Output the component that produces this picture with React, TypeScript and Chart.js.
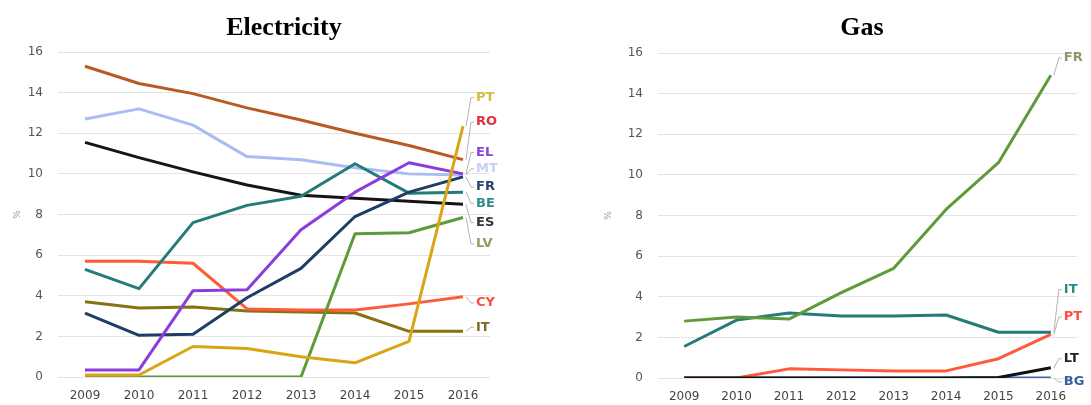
import React, { useEffect, useRef } from 'react';
import { Chart, registerables } from 'chart.js';

Chart.register(...registerables);

// ---------- data ----------
const years = ['2009', '2010', '2011', '2012', '2013', '2014', '2015', '2016'];
const yTicks = [0, 2, 4, 6, 8, 10, 12, 14, 16];

// Electricity (%)
const elecPT = [0.1, 0.1, 1.5, 1.4, 1.0, 0.7, 1.75, 12.35];
const elecRO = [15.3, 14.45, 13.95, 13.25, 12.65, 12.0, 11.4, 10.7];
const elecEL = [0.35, 0.35, 4.25, 4.3, 7.25, 9.1, 10.55, 10.0];
const elecMT = [12.7, 13.2, 12.4, 10.85, 10.7, 10.3, 10.0, 9.95];
const elecFR = [3.15, 2.05, 2.1, 3.9, 5.35, 7.9, 9.1, 9.85];
const elecBE = [5.3, 4.35, 7.6, 8.45, 8.9, 10.5, 9.05, 9.1];
const elecES = [11.55, 10.8, 10.1, 9.45, 8.95, 8.8, 8.65, 8.5];
const elecLV = [0, 0, 0, 0, 0, 7.05, 7.1, 7.85];
const elecCY = [5.7, 5.7, 5.6, 3.35, 3.3, 3.3, 3.6, 3.95];
const elecIT = [3.7, 3.4, 3.45, 3.25, 3.2, 3.15, 2.25, 2.25];

// Gas (%)
const gasFR = [2.8, 3.0, 2.9, 4.2, 5.4, 8.3, 10.6, 14.9];
const gasIT = [1.55, 2.85, 3.2, 3.05, 3.05, 3.1, 2.25, 2.25];
const gasLT = [0, 0, 0, 0, 0, 0, 0.02, 0.5];
const gasPT = [0, 0, 0.45, 0.4, 0.35, 0.35, 0.95, 2.15];
const gasBG = [0, 0, 0, 0, 0, 0, 0, 0];

// value-space heights where the end labels sit
const elecLabelAt = { PT: 13.75, RO: 12.55, EL: 11.05, MT: 10.25, FR: 9.35, BE: 8.55, ES: 7.6, LV: 6.55, CY: 3.65, IT: 2.45 };
const gasLabelAt = { FR: 15.75, IT: 4.35, PT: 3.0, LT: 0.95, BG: -0.2 };

// ---------- styles ----------
const elecSeries = [
  { key: 'PT', data: elecPT, line: '#d9a514', text: '#d2bd3a' },
  { key: 'LV', data: elecLV, line: '#5e9a38', text: '#8b9b63' },
  { key: 'EL', data: elecEL, line: '#8a3cdc', text: '#8a44d8' },
  { key: 'FR', data: elecFR, line: '#1f3d66', text: '#2b4572' },
  { key: 'BE', data: elecBE, line: '#237c7b', text: '#2d8c8a' },
  { key: 'ES', data: elecES, line: '#151515', text: '#333333' },
  { key: 'MT', data: elecMT, line: '#a9bdf2', text: '#c4d1f4' },
  { key: 'RO', data: elecRO, line: '#b85a24', text: '#e03040' },
  { key: 'CY', data: elecCY, line: '#ff5a3a', text: '#ff4c3c' },
  { key: 'IT', data: elecIT, line: '#857312', text: '#7c6c22' },
];

const gasSeries = [
  { key: 'FR', data: gasFR, line: '#5f9a3a', text: '#889a6e' },
  { key: 'IT', data: gasIT, line: '#237c7b', text: '#2a8a8a' },
  { key: 'LT', data: gasLT, line: '#111111', text: '#222222' },
  { key: 'PT', data: gasPT, line: '#ff5a3a', text: '#ff5040' },
  { key: 'BG', data: gasBG, line: '#3c68b0', text: '#3a5ea6' },
];

const endLabelsPlugin = {
  id: 'endLabels',
  afterDatasetsDraw(chart: any, _args: any, opts: any) {
    const { ctx } = chart;
    const yScale = chart.scales.y;
    const items = opts.items || [];
    ctx.save();
    for (let i = 0; i < items.length; i++) {
      const it = items[i];
      const meta = chart.getDatasetMeta(it.index);
      const pt = meta.data[meta.data.length - 1];
      const x = pt.x;
      const y = pt.y;
      const ly = yScale.getPixelForValue(it.at);
      ctx.strokeStyle = '#b4b4b4';
      ctx.lineWidth = 1;
      ctx.beginPath();
      ctx.moveTo(x + 3, y);
      ctx.lineTo(x + 8, ly);
      ctx.lineTo(x + 11, ly);
      ctx.stroke();
      ctx.fillStyle = it.color;
      ctx.font = 'bold 13px "DejaVu Sans"';
      ctx.textAlign = 'left';
      ctx.textBaseline = 'middle';
      ctx.fillText(it.text, x + 13, ly);
    }
    ctx.font = 'bold 26px "Liberation Serif"';
    ctx.fillStyle = '#000';
    ctx.textAlign = 'center';
    ctx.textBaseline = 'alphabetic';
    ctx.fillText(opts.title, opts.titleX, opts.titleY);
    ctx.restore();
  },
};

function makeConfig(series: any[], labelAt: any, layout: any, title: string, titleX: number) {
  return {
    type: 'line',
    data: {
      labels: years,
      datasets: series.map((s) => ({
        label: s.key,
        data: s.data,
        borderColor: s.line,
        backgroundColor: s.line,
        borderWidth: 3,
        pointRadius: 0,
        tension: 0,
        fill: false,
        borderJoinStyle: 'round',
      })),
    },
    options: {
      animation: false,
      responsive: false,
      events: [],
      layout: { padding: { left: layout.padL, right: layout.padR, top: layout.padT, bottom: 0 } },
      plugins: {
        legend: { display: false },
        tooltip: { enabled: false },
        title: { display: false },
        endLabels: {
          items: series.map((s, i) => ({ index: i, text: s.key, color: s.text, at: labelAt[s.key] })),
          title,
          titleX,
          titleY: 35,
        },
      },
      scales: {
        x: {
          type: 'category',
          offset: true,
          grid: { display: false, drawTicks: false },
          border: { display: false },
          ticks: { color: '#444', font: { family: 'DejaVu Sans', size: 12 }, padding: 12, maxRotation: 0, autoSkip: false },
          afterFit: (s: any) => { s.height = layout.xH; },
        },
        y: {
          min: 0,
          max: 16,
          afterBuildTicks: (s: any) => { s.ticks = yTicks.map((v) => ({ value: v })); },
          grid: { color: '#e4e4e4', lineWidth: 1, drawTicks: false },
          border: { display: false },
          ticks: { color: '#555', font: { family: 'DejaVu Sans', size: 12 }, padding: 15 },
          title: { display: true, text: '%', color: '#999', font: { family: 'DejaVu Sans', size: 9 }, padding: 4 },
          afterFit: (s: any) => { s.width = layout.yW; },
        },
      },
    },
    plugins: [endLabelsPlugin],
  };
}

function LineChart({ series, labelAt, layout, title, titleX, width, height }: any) {
  const ref = useRef<HTMLCanvasElement | null>(null);
  useEffect(() => {
    if (!ref.current) return;
    const chart = new Chart(ref.current, makeConfig(series, labelAt, layout, title, titleX) as any);
    return () => chart.destroy();
  }, []);
  return <canvas ref={ref} width={width} height={height} style={{ display: 'block', width, height }} />;
}

export default function App() {
  return (
    <div style={{ position: 'absolute', left: 0, top: 0, width: 1091, height: 405, background: '#fff', overflow: 'hidden' }}>
      <div style={{ position: 'absolute', left: 0, top: 0 }}>
        <LineChart
          series={elecSeries}
          labelAt={elecLabelAt}
          layout={{ padL: 8, padR: 55, padT: 52, yW: 50, xH: 28 }}
          title="Electricity"
          titleX={284}
          width={545}
          height={405}
        />
      </div>
      <div style={{ position: 'absolute', left: 545, top: 0 }}>
        <LineChart
          series={gasSeries}
          labelAt={gasLabelAt}
          layout={{ padL: 54, padR: 14, padT: 53, yW: 59, xH: 27 }}
          title="Gas"
          titleX={317}
          width={546}
          height={405}
        />
      </div>
    </div>
  );
}
